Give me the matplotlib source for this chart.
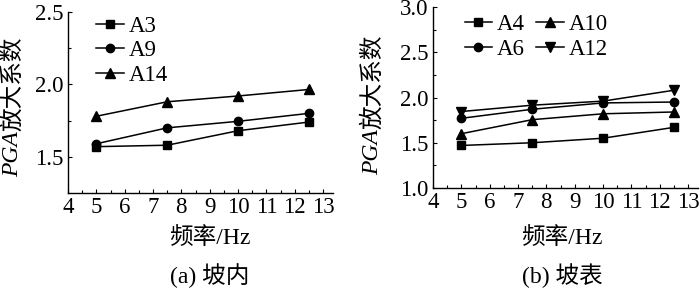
import matplotlib
matplotlib.use("Agg")
import matplotlib.pyplot as plt
from matplotlib.ticker import MultipleLocator

SERIF = "Liberation Serif"
CJK = ["Liberation Serif", "Noto Sans CJK SC"]
plt.rcParams["font.family"] = CJK
plt.rcParams["xtick.direction"] = "in"
plt.rcParams["ytick.direction"] = "in"

freq = [5, 7.5, 10, 12.5]

# (a) inside the slope
a_names = ["A3", "A9", "A14"]
a3 = [1.57, 1.58, 1.68, 1.74]
a9 = [1.59, 1.70, 1.745, 1.80]
a14 = [1.78, 1.88, 1.92, 1.965]

# (b) slope surface
b_names = ["A4", "A6", "A10", "A12"]
a4 = [1.47, 1.50, 1.55, 1.67]
a6 = [1.77, 1.87, 1.94, 1.95]
a10 = [1.60, 1.755, 1.82, 1.84]
a12 = [1.845, 1.915, 1.96, 2.08]

xticks = list(range(4, 14))

TICK_FS = 16.5
LAB_FS = 17


def style_axis(ax, ylim, ymajor):
    for side in ("top", "right"):
        ax.spines[side].set_visible(False)
    for side in ("left", "bottom"):
        ax.spines[side].set_linewidth(1.0)
    ax.set_xlim(4, 13.35)
    ax.set_ylim(*ylim)
    ax.set_xticks(xticks)
    ax.xaxis.set_minor_locator(MultipleLocator(0.5))
    ax.yaxis.set_major_locator(MultipleLocator(ymajor))
    ax.yaxis.set_minor_locator(MultipleLocator(ymajor / 2))
    ax.yaxis.set_major_formatter(plt.FormatStrFormatter("%.1f"))
    ax.tick_params(which="major", length=3, width=0.8, labelsize=TICK_FS, pad=3)
    ax.tick_params(which="minor", length=2.5, width=0.8)
    for lab in ax.get_xticklabels() + ax.get_yticklabels():
        lab.set_family(SERIF)


leg_kw = dict(loc="upper left", frameon=False, prop={"family": SERIF, "size": TICK_FS},
              handlelength=1.2, handletextpad=0.2, labelspacing=0.16, borderaxespad=0)

fig = plt.figure(figsize=(7.0, 2.9), dpi=100)

ax1 = fig.add_axes([68 / 700, 97 / 290, 265 / 700, 181 / 290])
ax1.plot(freq, a3, "k-s", lw=1.1, ms=6, label=a_names[0])
ax1.plot(freq, a9, "k-o", lw=1.1, ms=6, label=a_names[1])
ax1.plot(freq, a14, "k-^", lw=1.1, ms=7, label=a_names[2])
style_axis(ax1, (1.25, 2.5), 0.5)
ax1.legend(bbox_to_anchor=(0.072, 1.03), **leg_kw)

ax2 = fig.add_axes([433 / 700, 102 / 290, 265 / 700, 181 / 290])
ax2.plot(freq, a4, "k-s", lw=1.1, ms=6, label=b_names[0])
ax2.plot(freq, a6, "k-o", lw=1.1, ms=6, label=b_names[1])
ax2.plot(freq, a10, "k-^", lw=1.1, ms=7, label=b_names[2])
ax2.plot(freq, a12, "k-v", lw=1.1, ms=7, label=b_names[3])
style_axis(ax2, (1.0, 3.0), 0.5)
ax2.legend(bbox_to_anchor=(0.085, 1.01), ncol=2, columnspacing=0.5, **leg_kw)

for xc, cap in ((210 / 700, "(a) 坡内"), (562 / 700, "(b) 坡表")):
    fig.text(xc, 1 - 238 / 290, "频率/Hz", ha="center", va="center", fontsize=LAB_FS, family=CJK)
    fig.text(xc, 1 - 276 / 290, cap, ha="center", va="center", fontsize=LAB_FS, family=CJK)

for xc, yb, ax in ((13 / 700, 1 - 177 / 290, ax1), (373 / 700, 1 - 175 / 290, ax2)):
    t = fig.text(xc, yb, "PGA", rotation=90, ha="center", va="bottom",
                 fontsize=LAB_FS, family=SERIF, style="italic")
    ax.annotate("放大系数", xy=(0.5, 1.0), xycoords=t, ha="center", va="bottom",
                rotation=90, fontsize=LAB_FS, family=CJK, annotation_clip=False)

fig.savefig("out.png", dpi=100)
